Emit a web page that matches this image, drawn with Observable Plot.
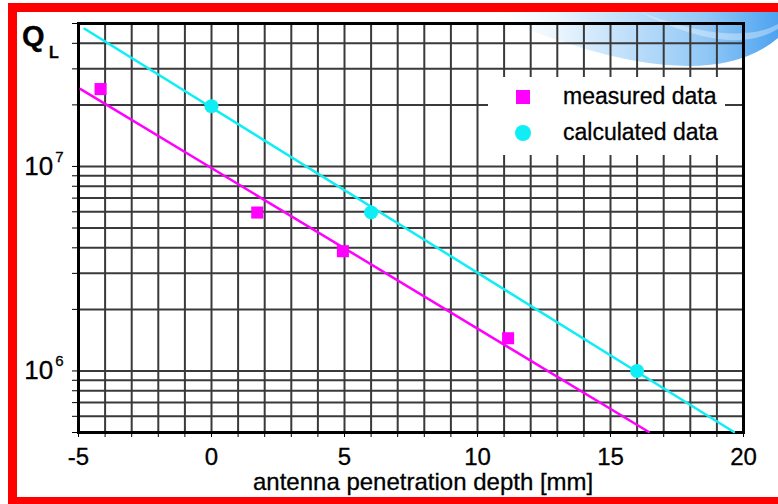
<!DOCTYPE html>
<html>
<head>
<meta charset="utf-8">
<script src="https://cdn.jsdelivr.net/npm/d3@7"></script>
<script src="https://cdn.jsdelivr.net/npm/@observablehq/plot@0.6"></script>
<style>
  html, body { margin: 0; padding: 0; background: #fff; }
  #wrap { position: relative; width: 778px; height: 504px; overflow: hidden; background: #fff;
          font-family: "Liberation Sans", Arial, Helvetica, sans-serif; color: #000; }
  #chart { position: absolute; left: 0; top: 0; }
  .ov { position: absolute; white-space: nowrap; line-height: 1; -webkit-text-stroke: 0.3px #000; }
</style>
</head>
<body>
<div id="wrap">
  <div id="chart"></div>
  <div class="ov" style="left:22px; top:22px; font-weight:bold; font-size:29px;">Q</div>
  <div class="ov" style="left:49px; top:45px; font-weight:bold; font-size:16px;">L</div>
  <div class="ov" id="legend" style="left:488px; top:77px; width:237px; height:78px; background:#fff;">
    <div style="position:absolute; left:28px; top:13px; width:14px; height:14px; background:#ff00ff;"></div>
    <div class="ov" style="left:75px; top:8px; font-size:23px;">measured data</div>
    <div style="position:absolute; left:27px; top:48px; width:16px; height:16px; border-radius:50%; background:#10eef5;"></div>
    <div class="ov" style="left:75px; top:44px; font-size:23px;">calculated data</div>
  </div>
  <div class="ov" style="left:253px; top:470px; font-size:24px;">antenna penetration depth [mm]</div>
</div>
<script>
// measured data (magenta squares)
const measuredDepth = [-4.17, 1.72, 4.94, 11.15];
const measuredQ = [2.39e7, 5.95e6, 3.85e6, 1.445e6];
// calculated data (cyan circles)
const calculatedDepth = [0, 6, 16];
const calculatedQ = [1.97e7, 5.96e6, 1.0e6];
// fitted lines (end points)
const fitMeasuredDepth = [-4.92, 16.44];
const fitMeasuredQ = [2.39e7, 5.03e5];
const fitCalculatedDepth = [-4.77, 19.64];
const fitCalculatedQ = [4.71e7, 5.03e5];
// ticks / grid
const xTicks = [-5,-4,-3,-2,-1,0,1,2,3,4,5,6,7,8,9,10,11,12,13,14,15,16,17,18,19,20];
const xTickLabels = [-5, 0, 5, 10, 15, 20];
const yTicks = [5e5,6e5,7e5,8e5,9e5,1e6,2e6,3e6,4e6,5e6,6e6,7e6,8e6,9e6,1e7,2e7,3e7,4e7,5e7];
const yTickLabels = {1000000: ["10", "6"], 10000000: ["10", "7"]};

const zip = (xs, ys) => xs.map((x, i) => ({x, y: ys[i]}));
const measured = zip(measuredDepth, measuredQ);
const calculated = zip(calculatedDepth, calculatedQ);
const fitMeasured = zip(fitMeasuredDepth, fitMeasuredQ);
const fitCalculated = zip(fitCalculatedDepth, fitCalculatedQ);

const gridColor = "#3a3a3a";
const chart = Plot.plot({
  width: 778,
  height: 504,
  marginLeft: 78,
  marginRight: 35,
  marginTop: 23,
  marginBottom: 72,
  style: {background: "transparent", fontFamily: "'Liberation Sans', Arial, sans-serif", fontSize: "24px", color: "#000", overflow: "visible"},
  x: {domain: [-5, 20], ticks: xTicks, tickSize: 5, tickPadding: 10,
      tickFormat: d => xTickLabels.includes(d) ? String(d) : "", label: null},
  y: {type: "log", domain: [5e5, 5e7], ticks: yTicks, tickSize: 6, tickPadding: 9,
      tickFormat: d => { const t = yTickLabels[Math.round(d)]; return t ? "\u200B" + t[0] + "^" + t[1] : ""; }, label: null},
  marks: [
    Plot.ruleX(xTicks, {stroke: gridColor, strokeWidth: 2}),
    Plot.ruleY(yTicks, {stroke: gridColor, strokeWidth: 2}),
    Plot.frame({stroke: "#000", strokeWidth: 3}),
    Plot.line(fitMeasured, {x: "x", y: "y", stroke: "#ff00ff", strokeWidth: 2.5}),
    Plot.line(fitCalculated, {x: "x", y: "y", stroke: "#10eef5", strokeWidth: 2.5}),
    Plot.dot(measured, {x: "x", y: "y", symbol: "square", r: 6.8, fill: "#ff00ff", stroke: "none"}),
    Plot.dot(calculated, {x: "x", y: "y", r: 7, fill: "#10eef5", stroke: "none"})
  ]
});

// decorative background (red border + blue swoosh) inserted behind all marks
const NS = "http://www.w3.org/2000/svg";
const bg = document.createElementNS(NS, "g");
bg.innerHTML = `
  <defs>
    <linearGradient id="sw" x1="485" y1="0" x2="778" y2="0" gradientUnits="userSpaceOnUse">
      <stop offset="0" stop-color="#ffffff" stop-opacity="0"/>
      <stop offset="0.35" stop-color="#d6ebfc"/>
      <stop offset="0.75" stop-color="#92c8f6"/>
      <stop offset="1" stop-color="#4ea3f0"/>
    </linearGradient>
  </defs>
  <path d="M 485,12 Q 700,105 778,38 L 778,12 Z" fill="url(#sw)"/>
  <path d="M 640,12 Q 735,48 778,24 L 778,29 Q 730,58 640,12 Z" fill="#ffffff" fill-opacity="0.35"/>
  <rect x="12.5" y="7.5" width="820" height="494" fill="none" stroke="#ff0000" stroke-width="9"/>`;
chart.insertBefore(bg, chart.firstChild);

// axis text: heavier look, y labels as 10 with a raised exponent
chart.querySelectorAll("text").forEach(t => {
  const s = t.textContent;
  t.setAttribute("stroke", "#000");
  t.setAttribute("stroke-width", "0.3");
  if (s.startsWith("\u200B")) {
    const [base, exp] = s.slice(1).split("^");
    t.textContent = base;
    t.setAttribute("font-size", "26");
    const sp = document.createElementNS(NS, "tspan");
    sp.setAttribute("font-size", "15");
    sp.setAttribute("dx", "2");
    sp.setAttribute("dy", "-13");
    sp.textContent = exp;
    t.appendChild(sp);
  }
});
document.getElementById("chart").appendChild(chart);
</script>
</body>
</html>
